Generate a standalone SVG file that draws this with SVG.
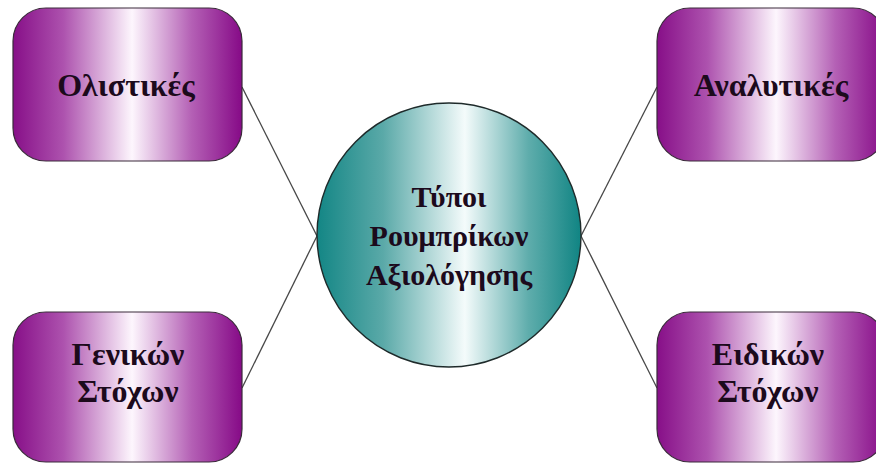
<svg xmlns="http://www.w3.org/2000/svg" width="876" height="463" viewBox="0 0 876 463">
<defs>
<linearGradient id="purple" x1="0" y1="0" x2="1" y2="0">
<stop offset="0" stop-color="#870f88"/>
<stop offset="0.22" stop-color="#ad52ae"/>
<stop offset="0.52" stop-color="#fdf6fd"/>
<stop offset="0.78" stop-color="#b460b5"/>
<stop offset="1" stop-color="#860a87"/>
</linearGradient>
<linearGradient id="teal" x1="0" y1="0" x2="1" y2="0">
<stop offset="0" stop-color="#138685"/>
<stop offset="0.25" stop-color="#5aa9a8"/>
<stop offset="0.56" stop-color="#f4fbfb"/>
<stop offset="0.8" stop-color="#5fadac"/>
<stop offset="1" stop-color="#108483"/>
</linearGradient>
<style>
.box{fill:url(#purple);stroke:#3a2a3a;stroke-width:1.2}
.hub{fill:url(#teal);stroke:#1e2a2a;stroke-width:1.4}
.conn{stroke:#474747;stroke-width:1.3;fill:none}
text{font-family:"Liberation Serif","Times New Roman",serif;font-weight:bold;font-size:32px;fill:#1c0a1c;text-anchor:middle}
.hubtext{font-size:30px}
</style>
</defs>
<rect width="876" height="463" fill="#ffffff"/>
<g id="connectors">
<line class="conn" x1="242" y1="87" x2="317" y2="236"/>
<line class="conn" x1="242" y1="388" x2="317" y2="236"/>
<line class="conn" x1="657" y1="87" x2="581" y2="236"/>
<line class="conn" x1="657" y1="388" x2="581" y2="236"/>
</g>
<g id="node-holistic">
<rect class="box" x="13" y="8" width="229" height="153" rx="33" ry="33"/>
<text x="126" y="96">Ολιστικές</text>
</g>
<g id="node-analytic">
<rect class="box" x="657" y="8" width="229" height="153" rx="33" ry="33"/>
<text x="771" y="96">Αναλυτικές</text>
</g>
<g id="node-general">
<rect class="box" x="13" y="312" width="229" height="150" rx="33" ry="33"/>
<text x="128" y="365">Γενικών</text>
<text x="128" y="402">Στόχων</text>
</g>
<g id="node-specific">
<rect class="box" x="657" y="312" width="229" height="150" rx="33" ry="33"/>
<text x="768" y="365">Ειδικών</text>
<text x="768" y="402">Στόχων</text>
</g>
<g id="node-center">
<circle class="hub" cx="449" cy="235" r="132"/>
<text class="hubtext" x="449" y="207">Τύποι</text>
<text class="hubtext" x="449" y="246">Ρουμπρίκων</text>
<text class="hubtext" x="449" y="285">Αξιολόγησης</text>
</g>
</svg>
